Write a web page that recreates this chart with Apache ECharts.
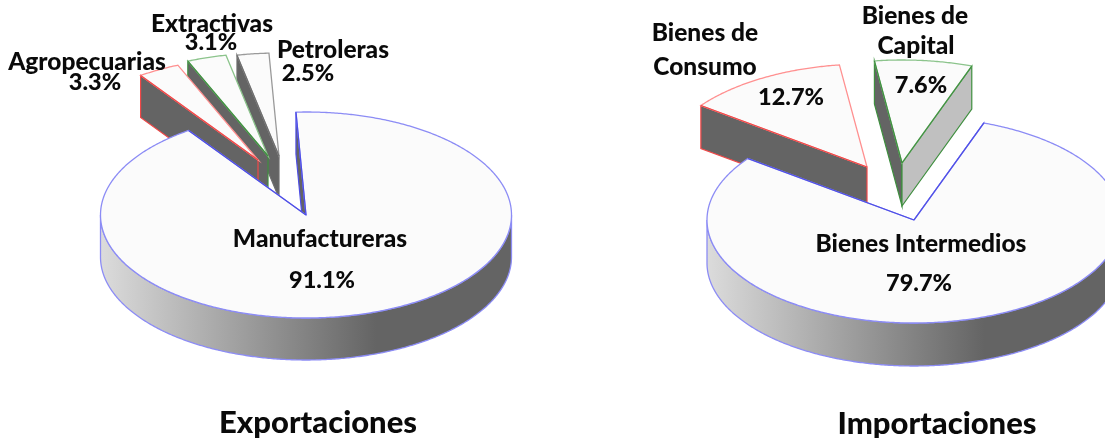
<!DOCTYPE html>
<html><head><meta charset="utf-8">
<style>html,body{margin:0;padding:0;background:#fff}#c{width:1105px;height:438px}</style>
<script src="https://cdn.jsdelivr.net/npm/echarts@6/dist/echarts.min.js"></script>
</head><body><div id="c"></div>
<script>
// ---- data ----
const exportCategories = ['Manufactureras', 'Agropecuarias', 'Extractivas', 'Petroleras'];
const exportValues = [91.1, 3.3, 3.1, 2.5];
const importCategories = ['Bienes Intermedios', 'Bienes de\nConsumo', 'Bienes de\nCapital'];
const importValues = [79.7, 12.7, 7.6];
const chartTitles = ['Exportaciones', 'Importaciones'];

// ---- layout and style ----
const FONT = 'Lato, sans-serif';
const palette = {
  blue:  { edge: '#4d4de6', arc: '#8c8cf5' },
  red:   { edge: '#f04848', arc: '#ff9090' },
  green: { edge: '#3f8f3f', arc: '#8cc48c' },
  gray:  { edge: '#6e6e6e', arc: '#9a9a9a' }
};
const exportLayout = {
  cx: 306, cy: 215, rx: 205.5, ry: 103, depth: 42, start: -2.8,
  drawOrder: [3, 2, 1, 0],
  offset: [[0, 0], [-48, -55], [-38, -59], [-27, -59]],
  colors: [palette.blue, palette.red, palette.green, palette.gray],
  name: [[[320, 239]], [[87, 62]], [[212, 24]], [[333, 50]]],
  pct: [[322, 280], [95, 82], [211, 42], [308, 73]]
};
const importLayout = {
  cx: 914, cy: 220, rx: 207, ry: 103, depth: 43, start: 19.7,
  drawOrder: [2, 1, 0],
  offset: [[0, 0], [-47, -53], [-12, -57]],
  colors: [palette.blue, palette.red, palette.green],
  name: [[[921, 244]], [[705, 33], [705, 67]], [[915, 16], [916, 46]]],
  pct: [[919, 283], [791, 97], [921, 85]]
};

function pieSeries(categories, values, L) {
  const total = values.reduce((a, b) => a + b, 0);
  const bounds = [];
  let acc = L.start;
  values.forEach(v => { bounds.push([acc, acc + v / total * 360]); acc += v / total * 360; });

  function renderItem(params, api) {
    const i = api.value(1);
    const value = api.value(0);
    const [a0, a1] = bounds[i];
    const ax = L.cx + L.offset[i][0], ay = L.cy + L.offset[i][1];
    const col = L.colors[i];
    const pt = (deg, d) => {
      const t = deg * Math.PI / 180;
      return [ax + L.rx * Math.sin(t), ay - L.ry * Math.cos(t) + (d || 0)];
    };
    const arc = (from, to, d) => {
      const n = Math.max(2, Math.ceil(Math.abs(to - from) * 2));
      const out = [];
      for (let k = 0; k <= n; k++) out.push(pt(from + (to - from) * k / n, d));
      return out;
    };
    const apex = [ax, ay], apexLow = [ax, ay + L.depth];
    const wall = (deg, fill) => ({
      type: 'polygon', silent: true,
      shape: { points: [apex, pt(deg), pt(deg, L.depth), apexLow] },
      style: { fill: fill, stroke: col.edge, lineWidth: 1.2 }
    });
    const children = [];
    const isMain = i === 0;
    const endVisible = Math.sin(a1 * Math.PI / 180) > 0.2;
    if (isMain) {
      const lo = Math.max(a0, 90), hi = Math.min(a1, 270);
      const top = arc(lo, hi, 0), bot = arc(hi, lo, L.depth);
      children.push({
        type: 'polygon', silent: true,
        shape: { points: top.concat(bot) },
        style: {
          fill: new echarts.graphic.LinearGradient(1, 0, 0, 0, [
            { offset: 0, color: '#646464' },
            { offset: 0.33, color: '#646464' },
            { offset: 1, color: '#dcdcdc' }
          ]),
          stroke: col.arc, lineWidth: 1.3
        }
      });
      children.push(wall(a0, '#646464'));
    } else {
      children.push(wall(a0, '#646464'));
      if (endVisible) children.push(wall(a1, '#c0c0c0'));
    }
    children.push({
      type: 'polygon', silent: true,
      shape: { points: [apex].concat(arc(a0, a1, 0)) },
      style: { fill: '#fbfbfb', stroke: col.arc, lineWidth: 1.3 }
    });
    const edgeLine = (p, q) => ({
      type: 'line', silent: true,
      shape: { x1: p[0], y1: p[1], x2: q[0], y2: q[1] },
      style: { stroke: col.edge, lineWidth: 1.2 }
    });
    children.push(edgeLine(apex, pt(a0)));
    if (isMain || endVisible) children.push(edgeLine(apex, pt(a1)));
    const text = (str, pos, size) => ({
      type: 'text', silent: true, z2: 100,
      style: {
        text: str, x: pos[0], y: pos[1], align: 'center', verticalAlign: 'middle',
        font: '900 ' + size + 'px ' + FONT, fill: '#0a0a0a'
      }
    });
    categories[i].split('\n').forEach((line, k) => children.push(text(line, L.name[i][k], 24.5)));
    children.push(text(value.toFixed(1) + '%', L.pct[i], 23.5));
    return { type: 'group', children: children };
  }

  return {
    type: 'custom',
    coordinateSystem: 'none',
    silent: true,
    animation: false,
    renderItem: renderItem,
    data: L.drawOrder.map(i => [values[i], i])
  };
}

const chart = echarts.init(document.getElementById('c'), null, { renderer: 'canvas' });
chart.setOption({
  backgroundColor: '#ffffff',
  animation: false,
  title: [
    { text: chartTitles[0], left: 318, top: 423, textAlign: 'center', textVerticalAlign: 'middle', padding: 0,
      textStyle: { fontFamily: FONT, fontWeight: 900, fontSize: 31, color: '#0a0a0a' } },
    { text: chartTitles[1], left: 937, top: 424, textAlign: 'center', textVerticalAlign: 'middle', padding: 0,
      textStyle: { fontFamily: FONT, fontWeight: 900, fontSize: 31, color: '#0a0a0a' } }
  ],
  series: [
    pieSeries(exportCategories, exportValues, exportLayout),
    pieSeries(importCategories, importValues, importLayout)
  ]
});
</script></body></html>
